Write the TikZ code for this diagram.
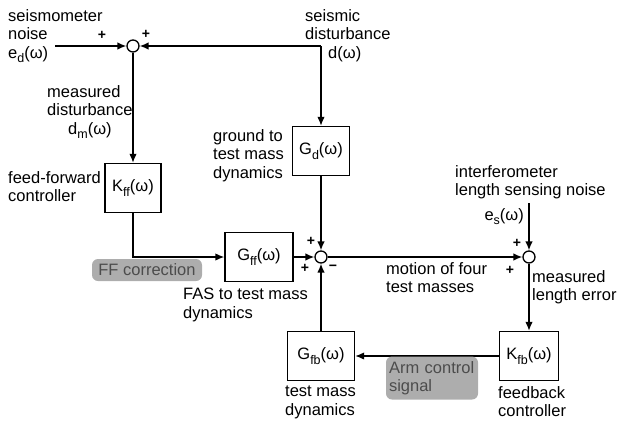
\documentclass[tikz,border=0pt]{standalone}
\usepackage{fontspec}
\setmainfont{Liberation Sans}
\usetikzlibrary{arrows.meta,positioning}

\newcommand\subs[1]{\raisebox{-0.5ex}{\fontsize{12.5}{12.5}\selectfont #1}}

\begin{document}
\begin{tikzpicture}[y=-1pt,x=1pt,
	font=\fontsize{16.5}{18.5}\selectfont,
	blk/.style={draw, line width=1.4pt, minimum height=49pt, inner sep=0pt},
	sumpt/.style={draw, circle, line width=1.3pt, minimum size=12pt, inner sep=0pt},
	sig/.style={line width=1.4pt, -{Latex[length=9pt,width=7.5pt]}},
	lbl/.style={align=left, inner sep=0pt, anchor=north west},
	sgn/.style={inner sep=0pt, font=\fontsize{14}{14}\selectfont\bfseries},
	shade/.style={fill=black!32, rounded corners=6pt, text=black!70, inner sep=0pt}]
	\useasboundingbox (0,0) rectangle (618,426);

	\node[sumpt] (s1) at (133,46) {};
	\node[sumpt] (s2) at (321,257) {};
	\node[sumpt] (s3) at (529,257) {};

	\node[blk, minimum width=57pt] (gd) at (321,151) {G\subs{d}(ω)};
	\node[blk, minimum width=56pt] (kff) at (133,188) {K\subs{ff}(ω)};
	\node[blk, minimum width=68pt] (gff) at (259,257) {G\subs{ff}(ω)};
	\node[blk, minimum width=59pt] (kfb) at (529,356) {K\subs{fb}(ω)};
	\node[blk, minimum width=67pt] (gfb) at (321,356) {G\subs{fb}(ω)};

	\coordinate (ein) at (55,46);
	\coordinate (din) at (321,46);
	\coordinate (esin) at (529,203);

	\draw[sig] (ein) -- (s1);
	\draw[sig] (din) -- (s1);
	\draw[sig] (din) -- (gd);
	\draw[sig] (s1) -- (kff);
	\draw[sig] (kff) |- (gff);
	\draw[sig] (gff) -- (s2);
	\draw[sig] (gd) -- (s2);
	\draw[sig] (s2) -- (s3);
	\draw[sig] (esin) -- (s3);
	\draw[sig] (s3) -- (kfb);
	\draw[sig] (kfb) -- (gfb);
	\draw[sig] (gfb) -- (s2);

	\node[sgn] (p1) at (102,35) {+};
	\node[sgn] (p2) at (146,34) {+};
	\node[sgn] (p3) at (311,241) {+};
	\node[sgn] (p4) at (305,268) {+};
	\node[sgn] (m1) at (333,268) {−};
	\node[sgn] (p5) at (517,243) {+};
	\node[sgn] (p6) at (510,270) {+};

	\node[lbl] (ednote) at (8,9) {seismometer\\noise\\e\subs{d}(ω)};
	\node[lbl] (dmnote) at (47,85) {measured\\disturbance\\\hspace*{21pt}d\subs{m}(ω)};
	\node[lbl] (dnote) at (305,9) {seismic\\disturbance\\\hspace*{23pt}d(ω)};
	\node[lbl] (gdnote) at (213,129) {ground to\\test mass\\dynamics};
	\node[lbl] (kffnote) at (8,171) {feed-forward\\controller};
	\node[lbl] (gffnote) at (183,288) {FAS to test mass\\dynamics};
	\node[lbl] (motnote) at (386,262) {motion of four\\test masses};
	\node[lbl] (esnote) at (455,165) {interferometer\\length sensing noise};
	\node[inner sep=0pt, anchor=north east] (es) at (524,208) {e\subs{s}(ω)};
	\node[lbl] (errnote) at (532,270) {measured\\length error};
	\node[lbl] (gfbnote) at (285,386) {test mass\\dynamics};
	\node[lbl] (kfbnote) at (498,386) {feedback\\controller};

	\node[shade, minimum width=110pt, minimum height=22pt] (ffcorr) at (147,270) {FF correction};
	\node[shade, minimum width=92pt, minimum height=43pt, align=left, text width=86pt] (armsig) at (432,378) {Arm control\\signal};
\end{tikzpicture}
\end{document}
